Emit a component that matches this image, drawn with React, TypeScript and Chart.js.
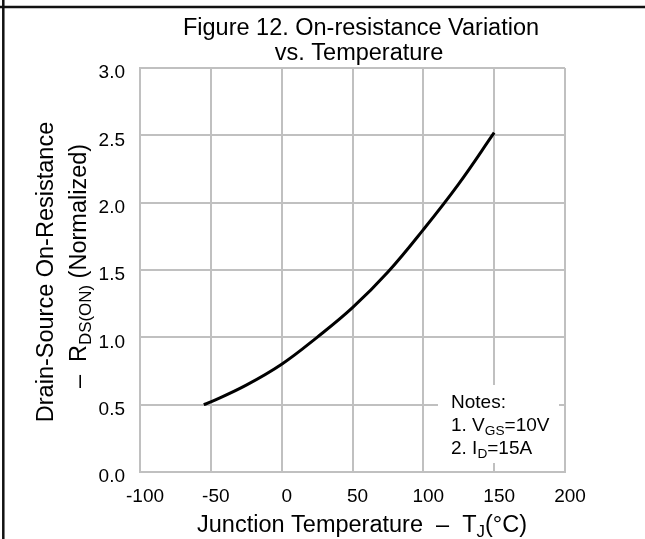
import React, { useEffect, useRef } from "react";
import { Chart, registerables } from "chart.js";

Chart.register(...registerables);

const temperatures = [-55, -50, -25, 0, 25, 50, 75, 100, 125, 150];
const rdsOn = [0.5, 0.52, 0.645, 0.8, 1.0, 1.22, 1.485, 1.8, 2.14, 2.52];
const xTicks = [-100, -50, 0, 50, 100, 150, 200];
const yTicks = [0, 0.5, 1.0, 1.5, 2.0, 2.5, 3.0];
const titleLines = ["Figure 12. On-resistance Variation", "vs. Temperature"];
const notesLines: [string, boolean][][] = [
  [["Notes:", false]],
  [["1. V", false], ["GS", true], ["=10V", false]],
  [["2. I", false], ["D", true], ["=15A", false]],
];

const FONT = '"Liberation Sans", Arial, sans-serif';

type Seg = [string, boolean];

function drawRich(
  ctx: CanvasRenderingContext2D,
  segs: Seg[],
  x: number,
  y: number,
  size: number,
  align: "left" | "center"
) {
  const sub = size * 0.72;
  let total = 0;
  const widths = segs.map(([t, s]) => {
    ctx.font = `${s ? sub : size}px ${FONT}`;
    const w = ctx.measureText(t).width;
    total += w;
    return w;
  });
  let cx = align === "center" ? x - total / 2 : x;
  ctx.textAlign = "left";
  ctx.textBaseline = "alphabetic";
  segs.forEach(([t, s], i) => {
    ctx.font = `${s ? sub : size}px ${FONT}`;
    ctx.fillText(t, cx, y + (s ? size * 0.2 : 0));
    cx += widths[i];
  });
}

const decorPlugin = {
  id: "decor",
  afterDraw(chart: any) {
    const ctx: CanvasRenderingContext2D = chart.ctx;
    ctx.save();
    ctx.fillStyle = "#000";

    // Title
    ctx.font = `23.5px ${FONT}`;
    ctx.textAlign = "center";
    ctx.textBaseline = "alphabetic";
    ctx.fillText(titleLines[0], 361, 35);
    ctx.fillText(titleLines[1], 359, 60);

    // X axis title
    drawRich(
      ctx,
      [["Junction Temperature  \u2013  T", false], ["J", true], ["(\u00B0C)", false]],
      362,
      532,
      23.5,
      "center"
    );

    // Y axis title (rotated)
    ctx.save();
    ctx.translate(53, 272);
    ctx.rotate(-Math.PI / 2);
    drawRich(ctx, [["Drain-Source On-Resistance", false]], 0, 0, 23.5, "center");
    ctx.restore();
    ctx.save();
    ctx.translate(86, 266);
    ctx.rotate(-Math.PI / 2);
    drawRich(
      ctx,
      [["\u2013  R", false], ["DS(ON)", true], [" (Normalized)", false]],
      0,
      0,
      23.5,
      "center"
    );
    ctx.restore();

    // Notes box
    ctx.fillStyle = "#fff";
    ctx.fillRect(438, 385, 121, 78);
    ctx.fillStyle = "#000";
    notesLines.forEach((segs, i) => {
      drawRich(ctx, segs, 451, 408 + i * 23, 19, "left");
    });

    // Frame lines
    ctx.strokeStyle = "#111";
    ctx.lineWidth = 2.5;
    ctx.beginPath();
    ctx.moveTo(0, 7);
    ctx.lineTo(645, 7);
    ctx.moveTo(3.3, 0);
    ctx.lineTo(3.3, 539);
    ctx.stroke();
    ctx.restore();
  },
};

export default function App() {
  const ref = useRef<HTMLCanvasElement | null>(null);

  useEffect(() => {
    document.body.style.margin = "0";
    const canvas = ref.current!;
    const chart = new Chart(canvas, {
      type: "line",
      data: {
        datasets: [
          {
            data: temperatures.map((t, i) => ({ x: t, y: rdsOn[i] })),
            borderColor: "#000",
            borderWidth: 3,
            pointRadius: 0,
            tension: 0.4,
            fill: false,
          },
        ],
      },
      options: {
        responsive: false,
        animation: false,
        events: [],
        layout: { padding: { top: 68, right: 80, left: 0, bottom: 0 } },
        plugins: { legend: { display: false }, tooltip: { enabled: false } },
        scales: {
          x: {
            type: "linear",
            min: xTicks[0],
            max: xTicks[xTicks.length - 1],
            afterBuildTicks: (scale: any) => {
              scale.ticks = xTicks.map((v) => ({ value: v }));
            },
            afterFit: (scale: any) => {
              scale.height = 67;
            },
            ticks: {
              color: "#000",
              font: { family: FONT, size: 19 },
              padding: 13,
              labelOffset: 5,
              maxRotation: 0,
              autoSkip: false,
              callback: (v: any) => String(v),
            },
            grid: { color: "#c0c0c0", lineWidth: 2, drawTicks: false },
            border: { color: "#c0c0c0", width: 2 },
          },
          y: {
            type: "linear",
            min: yTicks[0],
            max: yTicks[yTicks.length - 1],
            afterBuildTicks: (scale: any) => {
              scale.ticks = yTicks.map((v) => ({ value: v }));
            },
            afterFit: (scale: any) => {
              scale.width = 140;
            },
            ticks: {
              color: "#000",
              font: { family: FONT, size: 19 },
              padding: 15,
              labelOffset: 5,
              autoSkip: false,
              callback: (v: any) => Number(v).toFixed(1),
            },
            grid: { color: "#c0c0c0", lineWidth: 2, drawTicks: false },
            border: { color: "#c0c0c0", width: 2 },
          },
        },
      },
      plugins: [decorPlugin],
    } as any);
    return () => chart.destroy();
  }, []);

  return (
    <div style={{ position: "fixed", left: 0, top: 0, width: 645, height: 539, background: "#fff" }}>
      <canvas ref={ref} width={645} height={539} style={{ width: 645, height: 539, display: "block" }} />
    </div>
  );
}
